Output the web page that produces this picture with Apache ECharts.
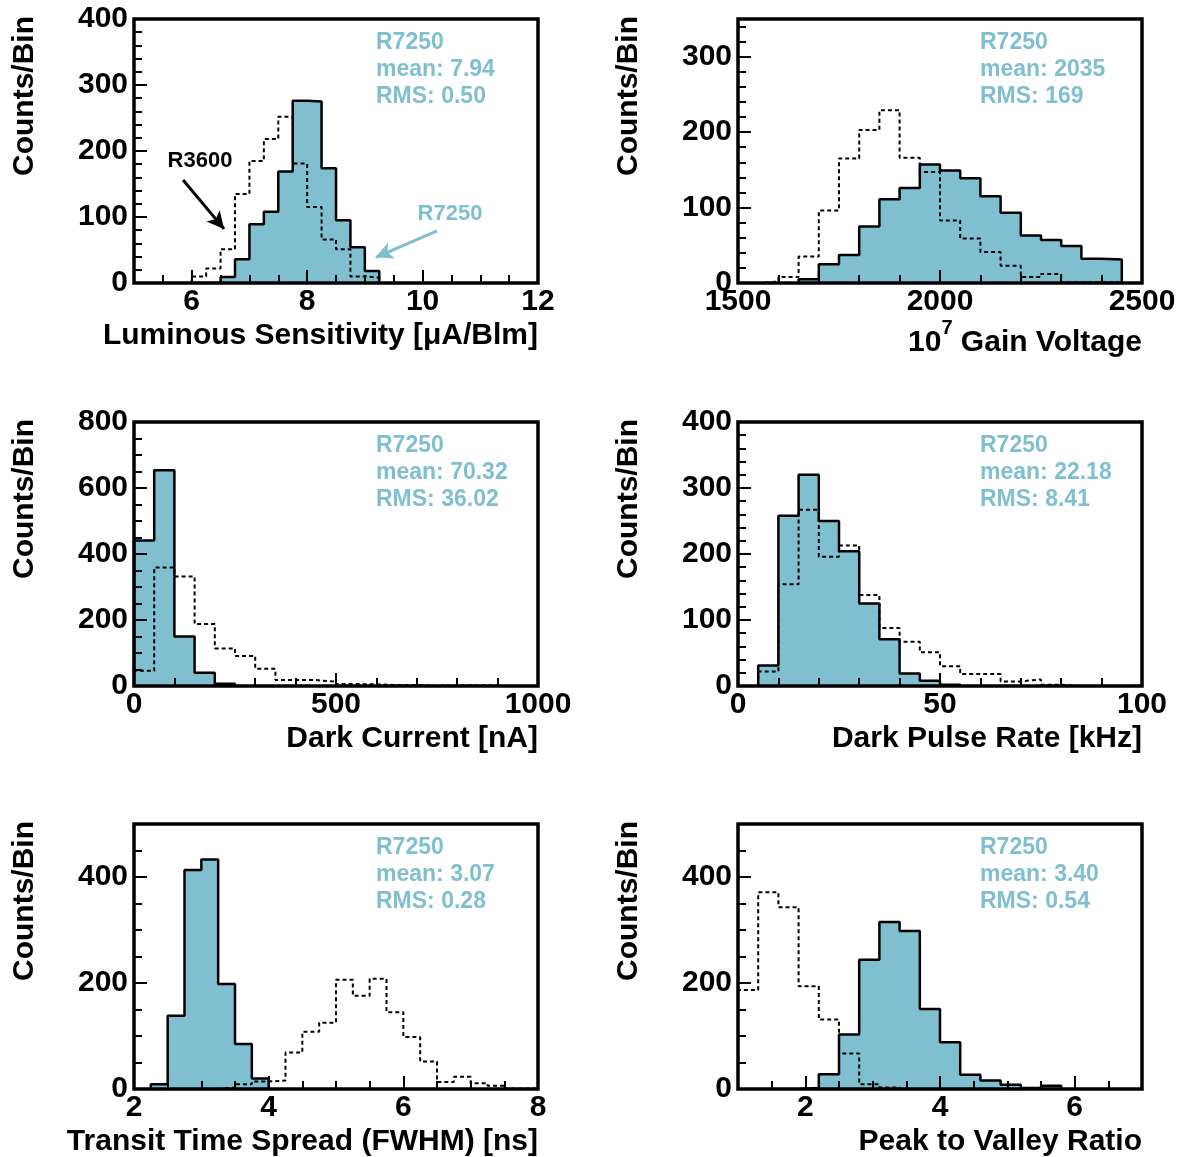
<!DOCTYPE html>
<html><head><meta charset="utf-8">
<script src="https://cdn.jsdelivr.net/npm/echarts@6/dist/echarts.min.js"></script>
<style>html,body{margin:0;padding:0;background:#fff}#c{width:1184px;height:1157px}</style>
</head><body><div id="c"></div>
<script>
// ---------------- DATA ----------------
// Luminous sensitivity [uA/Blm], bin width 0.25
const lumBinWidth = 0.25;
const lumR7250Start = 6.0;
const lumR7250 = [0, 0, 9, 36, 89, 108, 169, 276, 275, 174, 95, 54, 18];
const lumR3600Start = 6.0;
const lumR3600 = [10, 22, 51, 135, 185, 218, 252, 181, 115, 66, 51, 10, 8];
const lumXTicks = [6, 8, 10, 12];
const lumYTicks = [0, 100, 200, 300, 400];

// 10^7 gain voltage, bin width 50
const gainBinWidth = 50;
const gainR7250Start = 1650;
const gainR7250 = [5, 25, 37, 75, 111, 126, 157, 149, 139, 115, 93, 63, 57, 49, 32, 31];
const gainR3600Start = 1550;
const gainR3600 = [2, 8, 35, 96, 165, 203, 229, 166, 147, 83, 59, 41, 23, 8, 12, 1, 1, 1];
const gainXTicks = [1500, 2000, 2500];
const gainYTicks = [0, 100, 200, 300];

// Dark current [nA], bin width 50
const darkBinWidth = 50;
const darkR7250Start = 0;
const darkR7250 = [441, 654, 150, 40, 7];
const darkR3600Start = 0;
const darkR3600 = [46, 359, 332, 188, 114, 91, 52, 18, 18, 13, 6, 5, 3, 3, 1, 2, 2, 2];
const darkXTicks = [0, 500, 1000];
const darkYTicks = [0, 200, 400, 600, 800];

// Dark pulse rate [kHz], bin width 5
const rateBinWidth = 5;
const rateR7250Start = 5;
const rateR7250 = [31, 258, 320, 250, 204, 125, 71, 19, 8, 2];
const rateR3600Start = 5;
const rateR3600 = [22, 154, 267, 196, 213, 138, 88, 67, 51, 30, 18, 18, 7, 10, 2, 0, 0, 0, 1];
const rateXTicks = [0, 50, 100];
const rateYTicks = [0, 100, 200, 300, 400];

// Transit time spread FWHM [ns], bin width 0.25
const ttsBinWidth = 0.25;
const ttsR7250Start = 2.25;
const ttsR7250 = [9, 138, 413, 433, 198, 85, 20];
const ttsR3600Start = 3.25;
const ttsR3600 = [3, 9, 14, 16, 69, 108, 125, 206, 176, 208, 145, 98, 52, 13, 23, 11, 6, 1, 1];
const ttsXTicks = [2, 4, 6, 8];
const ttsYTicks = [0, 200, 400];

// Peak to valley ratio, bin width 0.3
const pvBinWidth = 0.3;
const pvR7250Start = 1.9;
const pvR7250 = [2, 28, 103, 244, 315, 298, 151, 88, 27, 16, 8, 2, 6];
const pvR3600Start = 1.0;
const pvR3600 = [187, 371, 343, 194, 131, 67, 9, 3];
const pvXTicks = [2, 4, 6];
const pvYTicks = [0, 200, 400];

const statsLum = ['R7250', 'mean: 7.94', 'RMS: 0.50'];
const statsGain = ['R7250', 'mean: 2035', 'RMS: 169'];
const statsDark = ['R7250', 'mean: 70.32', 'RMS: 36.02'];
const statsRate = ['R7250', 'mean: 22.18', 'RMS: 8.41'];
const statsTts = ['R7250', 'mean: 3.07', 'RMS: 0.28'];
const statsPv = ['R7250', 'mean: 3.40', 'RMS: 0.54'];

// ---------------- HELPERS ----------------
const FONT = '"Liberation Sans", Arial, Helvetica, sans-serif';
const FILL = '#7fbfcf';
const TEAL = '#7fbfcf';
const TITLE_FONT = 'bold 30px ' + FONT;
const SUP_FONT = 'bold 20px ' + FONT;

function hist(lo, w, counts) {
  const pts = [[lo, 0]];
  counts.forEach((c, i) => pts.push([+(lo + i * w).toFixed(6), c]));
  pts.push([+(lo + counts.length * w).toFixed(6), 0]);
  return pts;
}
function minorTicks(lo, hi, step) {
  const out = [];
  const n = Math.round((hi - lo) / step);
  for (let i = 1; i < n; i++) out.push(+(lo + i * step).toFixed(6));
  return out;
}
const measureCtx = document.createElement('canvas').getContext('2d');
function textWidth(t, font) { measureCtx.font = font; return measureCtx.measureText(t).width; }

const panels = [
  { grid: { left: 134, top: 19, width: 404, height: 264 }, xMin: 5, xMax: 12, yMax: 400,
    xMajor: lumXTicks, xMinor: minorTicks(5, 12, 0.5), yMajor: lumYTicks, yMinor: minorTicks(0, 400, 20),
    fill: hist(lumR7250Start, lumBinWidth, lumR7250), dash: hist(lumR3600Start, lumBinWidth, lumR3600),
    title: 'Luminous Sensitivity [μA/Blm]', stats: statsLum },
  { grid: { left: 738, top: 19, width: 404, height: 264 }, xMin: 1500, xMax: 2500, yMax: 350,
    xMajor: gainXTicks, xMinor: minorTicks(1500, 2500, 100), yMajor: gainYTicks, yMinor: minorTicks(0, 350, 20),
    fill: hist(gainR7250Start, gainBinWidth, gainR7250), dash: hist(gainR3600Start, gainBinWidth, gainR3600),
    title: null, stats: statsGain },
  { grid: { left: 134, top: 422, width: 404, height: 264 }, xMin: 0, xMax: 1000, yMax: 800,
    xMajor: darkXTicks, xMinor: minorTicks(0, 1000, 100), yMajor: darkYTicks, yMinor: minorTicks(0, 800, 50),
    fill: hist(darkR7250Start, darkBinWidth, darkR7250), dash: hist(darkR3600Start, darkBinWidth, darkR3600),
    title: 'Dark Current [nA]', stats: statsDark },
  { grid: { left: 738, top: 422, width: 404, height: 264 }, xMin: 0, xMax: 100, yMax: 400,
    xMajor: rateXTicks, xMinor: minorTicks(0, 100, 10), yMajor: rateYTicks, yMinor: minorTicks(0, 400, 20),
    fill: hist(rateR7250Start, rateBinWidth, rateR7250), dash: hist(rateR3600Start, rateBinWidth, rateR3600),
    title: 'Dark Pulse Rate [kHz]', stats: statsRate },
  { grid: { left: 134, top: 824, width: 404, height: 265 }, xMin: 2, xMax: 8, yMax: 500,
    xMajor: ttsXTicks, xMinor: minorTicks(2, 8, 0.5), yMajor: ttsYTicks, yMinor: minorTicks(0, 500, 50),
    fill: hist(ttsR7250Start, ttsBinWidth, ttsR7250), dash: hist(ttsR3600Start, ttsBinWidth, ttsR3600),
    title: 'Transit Time Spread (FWHM) [ns]', stats: statsTts },
  { grid: { left: 738, top: 824, width: 404, height: 265 }, xMin: 1, xMax: 7, yMax: 500,
    xMajor: pvXTicks, xMinor: minorTicks(1, 7, 0.5), yMajor: pvYTicks, yMinor: minorTicks(0, 500, 50),
    fill: hist(pvR7250Start, pvBinWidth, pvR7250), dash: hist(pvR3600Start, pvBinWidth, pvR3600),
    title: 'Peak to Valley Ratio', stats: statsPv }
];

const grids = [], xAxes = [], yAxes = [], series = [], graphics = [];
const labelStyle = { color: '#000', fontSize: 30, fontWeight: 'bold', fontFamily: FONT };

panels.forEach((p, i) => {
  grids.push(Object.assign({ show: true, borderColor: '#000', borderWidth: 3.5, backgroundColor: 'transparent', z: 5 }, p.grid));
  xAxes.push({ gridIndex: i, type: 'value', min: p.xMin, max: p.xMax, position: 'bottom', z: 6,
    axisLine: { show: false, onZero: false }, splitLine: { show: false },
    axisTick: { show: true, inside: true, length: 13, lineStyle: { color: '#000', width: 2 }, customValues: p.xMajor },
    axisLabel: Object.assign({ show: true, margin: 4, customValues: p.xMajor, formatter: v => String(v) }, labelStyle) });
  xAxes.push({ gridIndex: i, type: 'value', min: p.xMin, max: p.xMax, position: 'bottom', z: 6,
    axisLine: { show: false, onZero: false }, splitLine: { show: false },
    axisTick: { show: true, inside: true, length: 8, lineStyle: { color: '#000', width: 2 }, customValues: p.xMinor },
    axisLabel: { show: false } });
  yAxes.push({ gridIndex: i, type: 'value', min: 0, max: p.yMax, position: 'left', z: 6,
    axisLine: { show: false, onZero: false }, splitLine: { show: false },
    axisTick: { show: true, inside: true, length: 13, lineStyle: { color: '#000', width: 2 }, customValues: p.yMajor },
    axisLabel: Object.assign({ show: true, margin: 6, customValues: p.yMajor, formatter: v => String(v) }, labelStyle) });
  yAxes.push({ gridIndex: i, type: 'value', min: 0, max: p.yMax, position: 'left', z: 6,
    axisLine: { show: false, onZero: false }, splitLine: { show: false },
    axisTick: { show: true, inside: true, length: 8, lineStyle: { color: '#000', width: 2 }, customValues: p.yMinor },
    axisLabel: { show: false } });

  const fillSeries = { type: 'line', name: 'R7250', xAxisIndex: 2 * i, yAxisIndex: 2 * i, data: p.fill, step: 'end',
    symbol: 'none', silent: true, z: 2,
    lineStyle: { color: '#000', width: 2.5 }, areaStyle: { color: FILL, opacity: 1 } };
  if (i === 0) {
    fillSeries.markLine = { silent: true, symbol: ['none', 'arrow'], symbolSize: [13, 17], label: { show: false },
      animation: false,
      data: [
        [{ coord: [5.85, 156], lineStyle: { color: '#000', width: 3, type: 'solid' } }, { coord: [6.56, 82] }],
        [{ coord: [10.25, 79], lineStyle: { color: TEAL, width: 3, type: 'solid' } }, { coord: [9.19, 39] }]
      ] };
  }
  series.push(fillSeries);
  series.push({ type: 'line', name: 'R3600', xAxisIndex: 2 * i, yAxisIndex: 2 * i, data: p.dash, step: 'end',
    symbol: 'none', silent: true, z: 3,
    lineStyle: { color: '#000', width: 2, type: [4, 3] } });

  const g = p.grid;
  const right = g.left + g.width;
  const bottom = g.top + g.height;
  // y title
  graphics.push({ type: 'text', x: g.left - 109, y: g.top - 3, rotation: Math.PI / 2, silent: true,
    style: { text: 'Counts/Bin', fill: '#000', font: TITLE_FONT, textAlign: 'right', textVerticalAlign: 'middle' } });
  // x title
  if (p.title) {
    graphics.push({ type: 'text', x: right, y: bottom + 52.5, silent: true,
      style: { text: p.title, fill: '#000', font: TITLE_FONT, textAlign: 'right', textVerticalAlign: 'middle' } });
  } else {
    const rest = ' Gain Voltage';
    const wRest = textWidth(rest, TITLE_FONT);
    const wSup = textWidth('7', SUP_FONT);
    graphics.push({ type: 'text', x: right, y: bottom + 59.5, silent: true,
      style: { text: rest, fill: '#000', font: TITLE_FONT, textAlign: 'right', textVerticalAlign: 'middle' } });
    graphics.push({ type: 'text', x: right - wRest, y: bottom + 45.5, silent: true,
      style: { text: '7', fill: '#000', font: SUP_FONT, textAlign: 'right', textVerticalAlign: 'middle' } });
    graphics.push({ type: 'text', x: right - wRest - wSup, y: bottom + 59.5, silent: true,
      style: { text: '10', fill: '#000', font: TITLE_FONT, textAlign: 'right', textVerticalAlign: 'middle' } });
  }
  // stats
  p.stats.forEach((t, k) => {
    graphics.push({ type: 'text', x: g.left + 242, y: g.top + 23.5 + k * 27.3, silent: true,
      style: { text: t, fill: TEAL, font: 'bold 23px ' + FONT, textAlign: 'left', textVerticalAlign: 'middle' } });
  });
});

// annotation labels in first panel
graphics.push({ type: 'text', x: 200, y: 161, silent: true,
  style: { text: 'R3600', fill: '#000', font: 'bold 22px ' + FONT, textAlign: 'center', textVerticalAlign: 'middle' } });
graphics.push({ type: 'text', x: 450, y: 214, silent: true,
  style: { text: 'R7250', fill: TEAL, font: 'bold 22px ' + FONT, textAlign: 'center', textVerticalAlign: 'middle' } });

const chart = echarts.init(document.getElementById('c'), null, { renderer: 'canvas' });
chart.setOption({
  animation: false,
  backgroundColor: '#fff',
  grid: grids, xAxis: xAxes, yAxis: yAxes, series: series, graphic: graphics
});
</script>
</body></html>
